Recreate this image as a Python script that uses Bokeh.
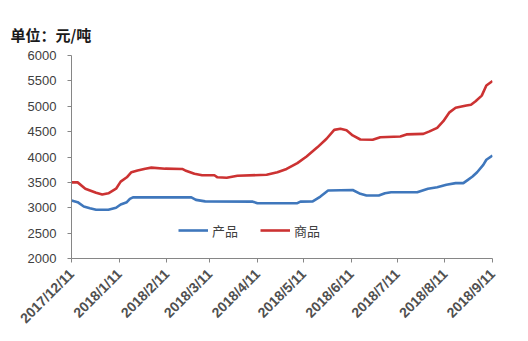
from datetime import datetime
from bokeh.plotting import figure
from bokeh.models import Range1d, FixedTicker, Title, Legend, LegendItem
from bokeh.embed import file_html
from bokeh.resources import INLINE
import math

red_dates = ["2017-12-11","2017-12-15","2017-12-20","2017-12-27","2017-12-31","2018-01-04","2018-01-09",
             "2018-01-12","2018-01-16","2018-01-19","2018-01-23","2018-01-28","2018-02-01","2018-02-10",
             "2018-02-21","2018-02-23","2018-03-01","2018-03-06","2018-03-14","2018-03-16","2018-03-22",
             "2018-03-29","2018-04-17","2018-04-24","2018-04-30","2018-05-07","2018-05-13","2018-05-20",
             "2018-05-26","2018-05-31","2018-06-04","2018-06-08","2018-06-12","2018-06-17","2018-06-25",
             "2018-06-30","2018-07-13","2018-07-17","2018-07-28","2018-08-01","2018-08-06","2018-08-10",
             "2018-08-14","2018-08-18","2018-08-25","2018-08-28","2018-08-31","2018-09-04","2018-09-07",
             "2018-09-11"]
red_values = [3500,3500,3375,3295,3260,3285,3375,
              3515,3600,3700,3735,3770,3790,3770,
              3765,3735,3670,3640,3640,3600,3590,
              3630,3650,3700,3765,3880,4010,4190,
              4360,4535,4555,4525,4425,4345,4340,
              4390,4405,4445,4455,4505,4575,4705,
              4880,4970,5015,5030,5100,5210,5410,
              5495]

blue_dates = ["2017-12-11","2017-12-15","2017-12-19","2017-12-23","2017-12-27","2018-01-04","2018-01-09",
              "2018-01-12","2018-01-16","2018-01-18","2018-01-20","2018-02-27","2018-03-02","2018-03-08",
              "2018-04-08","2018-04-11","2018-05-07","2018-05-09","2018-05-17","2018-05-22","2018-05-27",
              "2018-06-12","2018-06-17","2018-06-21","2018-06-29","2018-07-03","2018-07-07","2018-07-24",
              "2018-07-31","2018-08-06","2018-08-12","2018-08-18","2018-08-23","2018-08-26","2018-08-29",
              "2018-09-01","2018-09-05","2018-09-07","2018-09-11"]
blue_values = [3145,3110,3025,2990,2960,2960,3000,
               3065,3110,3175,3205,3205,3155,3125,
               3120,3090,3090,3120,3125,3220,3340,
               3350,3275,3240,3240,3285,3305,3305,
               3375,3405,3455,3485,3485,3550,3615,
               3700,3845,3945,4030]

tick_dates = ["2017-12-11","2018-01-11","2018-02-11","2018-03-11","2018-04-11","2018-05-11",
              "2018-06-11","2018-07-11","2018-08-11","2018-09-11"]
tick_labels = ["2017/12/11","2018/1/11","2018/2/11","2018/3/11","2018/4/11","2018/5/11",
               "2018/6/11","2018/7/11","2018/8/11","2018/9/11"]
series_names = ["产品", "商品"]
y_ticks = [2000, 2500, 3000, 3500, 4000, 4500, 5000, 5500, 6000]
title_text = "单位：元/吨"

def ms(s):
    return datetime.strptime(s, "%Y-%m-%d").timestamp() * 1000.0

p = figure(width=528, height=341, output_backend="svg", toolbar_location=None,
           x_range=Range1d(ms(tick_dates[0]), ms(tick_dates[-1])),
           y_range=Range1d(2000, 6000),
           min_border_left=71, min_border_right=36, min_border_top=55, min_border_bottom=83)
p.outline_line_color = None
p.xgrid.visible = False
p.ygrid.visible = False

p.title = Title(text=title_text, align="left", offset=-61, standoff=22,
                text_font="Noto Sans CJK SC", text_font_size="15px", text_font_style="bold",
                text_color="#1a1a1a")

lb = p.line([ms(d) for d in blue_dates], blue_values, line_color="#3F77BC", line_width=2.6)
lr = p.line([ms(d) for d in red_dates], red_values, line_color="#CC3232", line_width=2.6)

p.xaxis.ticker = FixedTicker(ticks=[ms(d) for d in tick_dates])
p.xaxis.major_label_overrides = {ms(d): l for d, l in zip(tick_dates, tick_labels)}
p.xaxis.major_label_orientation = math.pi / 4
p.yaxis.ticker = FixedTicker(ticks=y_ticks)
for ax in (p.xaxis[0], p.yaxis[0]):
    ax.axis_line_color = "#868686"
    ax.major_tick_line_color = "#868686"
    ax.major_tick_out = 4
    ax.major_tick_in = 0
    ax.minor_tick_line_color = None
    ax.major_label_text_font = "Liberation Sans"
    ax.major_label_text_font_size = "13px"
    ax.major_label_text_color = "#404040"
p.yaxis.major_label_standoff = 11
p.xaxis.major_label_standoff = 9
p.xaxis.major_label_text_font_size = "14px"
p.xaxis.major_label_text_font_style = "bold"
p.xaxis.major_label_text_color = "#505050"

legend = Legend(items=[LegendItem(label=series_names[0], renderers=[lb]),
                       LegendItem(label=series_names[1], renderers=[lr])],
                orientation="horizontal", location=(107, 18),
                border_line_color=None, background_fill_alpha=0,
                padding=0, margin=0, spacing=22, glyph_width=30, glyph_height=20,
                label_standoff=4, label_text_font="Noto Sans CJK SC",
                label_text_font_size="13px", label_text_color="#404040")
p.add_layout(legend)

open("out.html", "w").write(file_html(p, INLINE))
